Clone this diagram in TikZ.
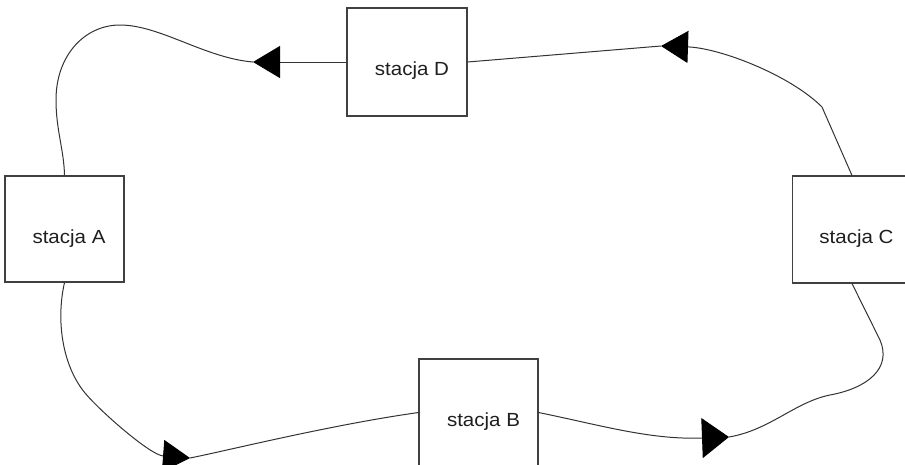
\documentclass[tikz,border=0pt]{standalone}
\usepackage{fontspec}
\setmainfont{Liberation Sans}[FakeStretch=1.08]
\usetikzlibrary{arrows.meta}
\begin{document}
\begin{tikzpicture}[x=1pt,y=-1pt,
  station/.style={draw=black!75, line width=1.1pt, fill=white, minimum width=119pt, minimum height=107pt, inner sep=0pt},
  stationtext/.style={font=\fontsize{19}{22}\selectfont, text=black!88, anchor=base, inner sep=0pt},
  link/.style={draw=black!80, line width=1pt},
  headsmall/.style={-{Triangle[length=27pt,width=32pt,color=black]}},
  headbig/.style={-{Triangle[length=27pt,width=40pt,color=black]}}]
\useasboundingbox (0,0) rectangle (905,464);
\clip (0,0) rectangle (905,464);
% stations
\node[station, minimum width=120pt, minimum height=108pt] (D) at (407,62) {};
\node[station, minimum height=106pt] (A) at (64.5,229) {};
\node[station] (C) at (852,229.5) {};
\node[station] (B) at (478.5,412.5) {};
\node[stationtext] (tD) at (412,75) {stacja D};
\node[stationtext] (tA) at (69,243) {stacja A};
\node[stationtext] (tC) at (856.5,243) {stacja C};
\node[stationtext] (tB) at (483.5,426) {stacja B};
% arrow tip positions
\coordinate (tipDA) at (253,62);
\coordinate (tipCD) at (661,46);
\coordinate (tipAB) at (190,458);
\coordinate (tipBC) at (729,437);
\coordinate (bendC) at (822,107);
% D -> A
\draw[link, headsmall] (D.west) -- (tipDA);
\draw[link] (tipDA) .. controls (205,58) and (160,25) .. (120,25)
  .. controls (85,25) and (56,55) .. (56,100)
  .. controls (56,130) and (64,150) .. (A.north);
% C -> D
\draw[link, headsmall] (C.north) -- (bendC) .. controls (790,75) and (720,48) .. (tipCD);
\draw[link] (D.east) -- (tipCD);
% A -> B
\draw[link, headsmall] (A.south) .. controls (56,320) and (62,365) .. (85,393)
  .. controls (100,411) and (150,455) .. (tipAB);
\draw[link] (tipAB) .. controls (230,450) and (330,425) .. (B.west);
% B -> C
\draw[link, headbig] (B.east) .. controls (600,425) and (650,440) .. (tipBC);
\draw[link] (tipBC) .. controls (770,430) and (795,402) .. (830,395)
  .. controls (868,388) and (892,368) .. (880,340) -- (C.south);
\end{tikzpicture}
\end{document}
